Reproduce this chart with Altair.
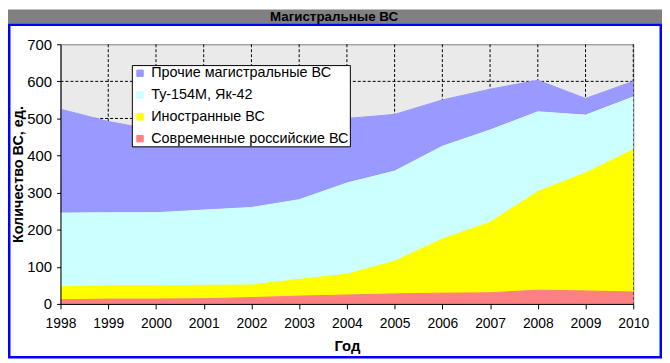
import altair as alt
import pandas as pd

# ---- data ----
years = list(range(1998, 2011))
series_names = [
    "Прочие магистральные ВС",
    "Ту-154М, Як-42",
    "Иностранные ВС",
    "Современные российские ВС",
]
series_colors = ["#9999ff", "#ccffff", "#ffff00", "#ff8080"]
prochie = [280, 246, 222, 225, 227, 213, 174, 153, 125, 110, 85, 45, 42]
tu_yak = [199, 197, 197, 203, 209, 215, 246, 243, 250, 249, 215, 156, 142]
inostr = [35, 36, 36, 36, 34, 45, 56, 88, 146, 190, 266, 318, 384]
sovrem = [11, 13, 13, 14, 17, 21, 24, 27, 29, 30, 37, 35, 32]
y_ticks = [0, 100, 200, 300, 400, 500, 600, 700]
y_grid = [100, 200, 300, 400, 500, 600]
x_grid = list(range(1999, 2011))
chart_title = "Магистральные ВС"
x_title = "Год"
y_title = "Количество ВС, ед."

# stack rank: 0 = bottom
values_by_series = [prochie, tu_yak, inostr, sovrem]
ranks = [3, 2, 1, 0]
rows = []
for name, vals, rk in zip(series_names, values_by_series, ranks):
    for yr, v in zip(years, vals):
        rows.append({"year": yr, "value": v, "series": name, "rank": rk})
df = pd.DataFrame(rows)

FONT = "Liberation Sans"
W, H = 578, 262
PL, PT = 53, 35
TOTAL_W, TOTAL_H = 660, 352

x_scale = alt.Scale(domain=[1998, 2010], nice=False, zero=False)
y_scale = alt.Scale(domain=[0, 700], nice=False)

x_axis = alt.Axis(
    values=years, format="d", tickSize=5, labelPadding=8, labelFlush=False,
    labelOverlap=False, labelFontSize=14, title=x_title, titlePadding=8,
    zindex=1,
)
y_axis = alt.Axis(
    values=y_ticks, tickSize=4, labelPadding=5, labelFontSize=15,
    title=y_title, titlePadding=1, titleFontSize=14.5, zindex=1,
)

vgrid = alt.Chart(pd.DataFrame({"gx": x_grid})).mark_rule(
    color="black", strokeWidth=1, strokeDash=[3, 2]
).encode(x=alt.X("gx:Q", scale=x_scale, axis=x_axis))

hgrid = alt.Chart(pd.DataFrame({"gy": y_grid})).mark_rule(
    color="black", strokeWidth=1, strokeDash=[3, 2]
).encode(y=alt.Y("gy:Q", scale=y_scale, axis=y_axis))

areas = alt.Chart(df).mark_area(
    line={"color": "#1c1c48", "strokeWidth": 1}, interpolate="linear",
    opacity=1, fillOpacity=1,
).encode(
    x=alt.X("year:Q", scale=x_scale, axis=x_axis),
    y=alt.Y("value:Q", stack="zero", scale=y_scale, axis=y_axis),
    color=alt.Color(
        "series:N",
        scale=alt.Scale(domain=series_names, range=series_colors),
        legend=alt.Legend(
            orient="none", legendX=72, legendY=21, title=None,
            fillColor="white", strokeColor="black", padding=1,
            rowPadding=7, labelFontSize=14.5, labelFont=FONT,
            labelColor="black", labelLimit=400, labelOffset=4,
            symbolType="square", symbolSize=42, symbolStrokeColor="#333333",
            symbolStrokeWidth=1, symbolOpacity=1, cornerRadius=0,
        ),
    ),
    order=alt.Order("rank:Q", sort="ascending"),
)

deco = pd.DataFrame({"t": [chart_title]})
bar = alt.Chart(deco).mark_rect(color="#808080").encode(
    x=alt.value(-PL), x2=alt.value(TOTAL_W - PL),
    y=alt.value(-PT), y2=alt.value(14 - PT),
)
frame = alt.Chart(deco).mark_rect(
    filled=False, stroke="#0000ff", strokeWidth=2.5
).encode(
    x=alt.value(1.25 - PL), x2=alt.value(TOTAL_W - 1.25 - PL),
    y=alt.value(15.25 - PT), y2=alt.value(TOTAL_H - 1.25 - PT),
)
title_text = alt.Chart(deco).mark_text(
    font=FONT, fontSize=13.5, fontWeight="bold", color="black",
    align="center", baseline="middle",
).encode(
    text="t:N",
    x=alt.value(337 - 8 - PL), y=alt.value(7.5 - PT),
)

chart = alt.layer(vgrid, hgrid, areas, bar, frame, title_text).properties(
    width=W, height=H,
    autosize=alt.AutoSizeParams(type="none"),
    padding={"left": PL, "top": PT, "right": TOTAL_W - PL - W, "bottom": TOTAL_H - PT - H},
).configure(background="white").configure_view(
    fill="#eaeaea", stroke="#808080", strokeWidth=1
).configure_axis(
    grid=False, domainColor="black", domainWidth=1, tickColor="black",
    tickWidth=1, labelFont=FONT, labelColor="black",
    titleFont=FONT, titleFontSize=15, titleFontWeight="bold",
    titleColor="black",
)

chart.save("out.html", embed_options={"renderer": "svg", "actions": False})
